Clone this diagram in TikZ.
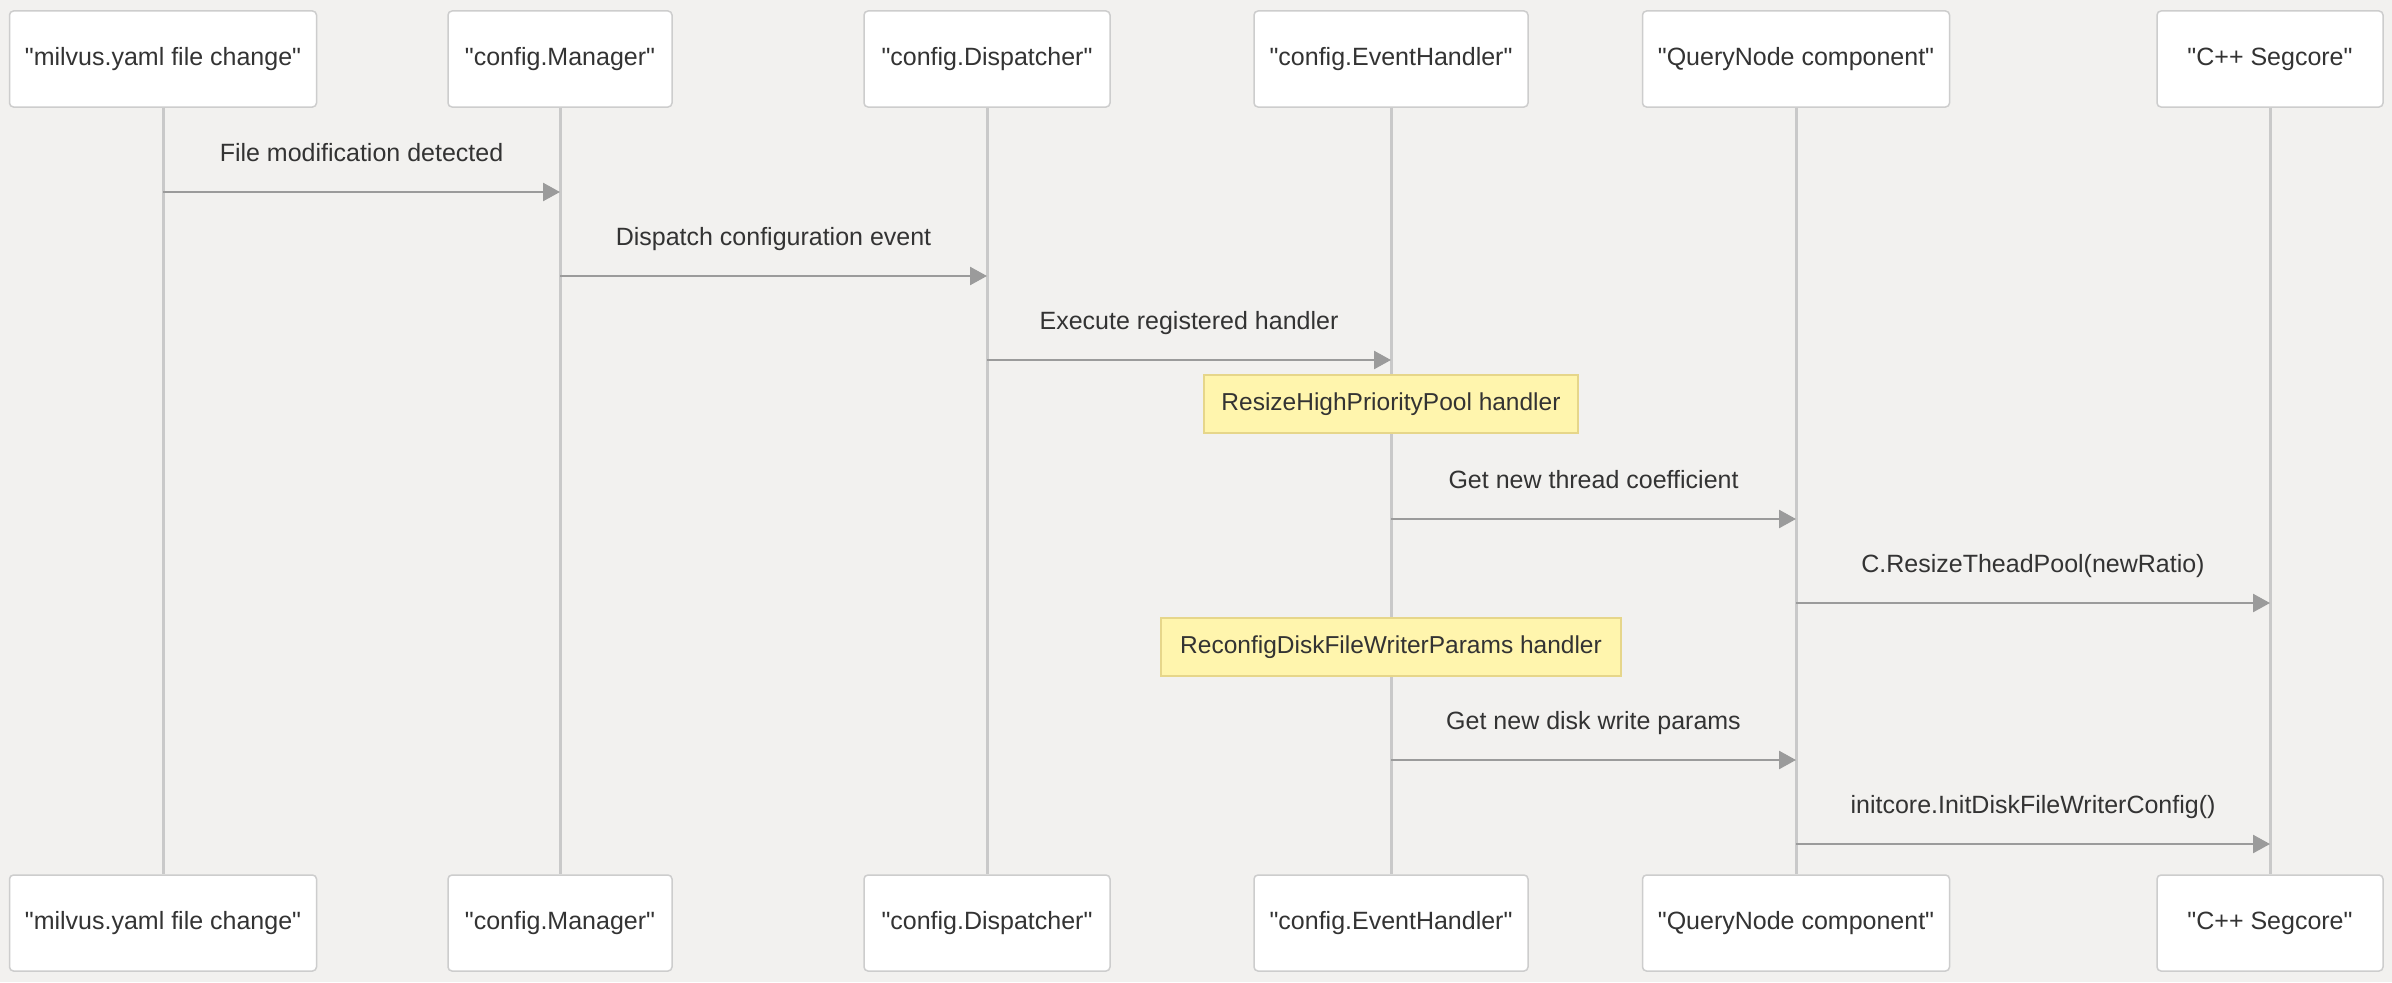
\documentclass[tikz,border=0pt]{standalone}
\usepackage{fontspec}
\setmainfont{Liberation Sans}
\usetikzlibrary{arrows.meta,positioning}

\definecolor{bgcol}{HTML}{F2F1EF}
\definecolor{boxline}{HTML}{CDCDCD}
\definecolor{lifecol}{HTML}{C9C9C9}
\definecolor{msgcol}{HTML}{9B9B9B}
\definecolor{notefill}{HTML}{FFF5AD}
\definecolor{noteline}{HTML}{E6D68A}
\definecolor{txtcol}{HTML}{333333}

\newcommand{\qname}[1]{\textquotedbl#1\textquotedbl}

\tikzset{
  actor/.style={draw=boxline, fill=white, rounded corners=4pt, line width=1.5pt,
                minimum height=96pt, font=\fontsize{25}{30}\selectfont, text=txtcol},
  lifeline/.style={draw=lifecol, line width=3pt},
  msg/.style={draw=msgcol, line width=2.5pt, -{Triangle[length=17pt,width=18pt]}},
  msglabel/.style={font=\fontsize{25}{30}\selectfont, text=txtcol},
  note/.style={draw=noteline, fill=notefill, line width=1.5pt,
               minimum height=58pt, font=\fontsize{24.5}{29}\selectfont, text=txtcol},
}

\begin{document}
\begin{tikzpicture}[x=1pt,y=-1pt]
\fill[bgcol] (0,0) rectangle (2392,982);
\useasboundingbox (0,0) rectangle (2392,982);

% participants, top row
\node[actor, minimum width=307pt] (mfc)  at (163,59)  {\qname{milvus.yaml file change}};
\node[actor, minimum width=224pt] (mgr)  at (560,59)  {\qname{config.Manager}};
\node[actor, minimum width=246pt] (disp) at (987,59)  {\qname{config.Dispatcher}};
\node[actor, minimum width=274pt] (evh)  at (1391,59) {\qname{config.EventHandler}};
\node[actor, minimum width=307pt] (qn)   at (1796,59) {\qname{QueryNode component}};
\node[actor, minimum width=226pt] (seg)  at (2270,59) {\qname{C++ Segcore}};

% participants, bottom row
\node[actor, minimum width=307pt] (mfcb)  at (163,923)  {\qname{milvus.yaml file change}};
\node[actor, minimum width=224pt] (mgrb)  at (560,923)  {\qname{config.Manager}};
\node[actor, minimum width=246pt] (dispb) at (987,923)  {\qname{config.Dispatcher}};
\node[actor, minimum width=274pt] (evhb)  at (1391,923) {\qname{config.EventHandler}};
\node[actor, minimum width=307pt] (qnb)   at (1796,923) {\qname{QueryNode component}};
\node[actor, minimum width=226pt] (segb)  at (2270,923) {\qname{C++ Segcore}};

% lifelines
\foreach \p in {mfc,mgr,disp,evh,qn,seg}
  \draw[lifeline] (\p.south) -- (\p b.north);

% messages
\foreach \src/\dst/\y/\txt in {
    mfc/mgr/192/File modification detected,
    mgr/disp/276/Dispatch configuration event,
    disp/evh/360/Execute registered handler,
    evh/qn/519/Get new thread coefficient,
    qn/seg/603/C.ResizeTheadPool(newRatio),
    evh/qn/760/Get new disk write params,
    qn/seg/844/initcore.InitDiskFileWriterConfig()}
  \draw[msg] (\src |- 0,\y) -- (\dst |- 0,\y)
    node[msglabel, midway, anchor=base, yshift=31pt] {\txt};

% notes
\node[note, minimum width=374pt] (rhp) at (evh |- 0,404) {ResizeHighPriorityPool handler};
\node[note, minimum width=460pt] (rdf) at (evh |- 0,647) {ReconfigDiskFileWriterParams handler};
\end{tikzpicture}
\end{document}
